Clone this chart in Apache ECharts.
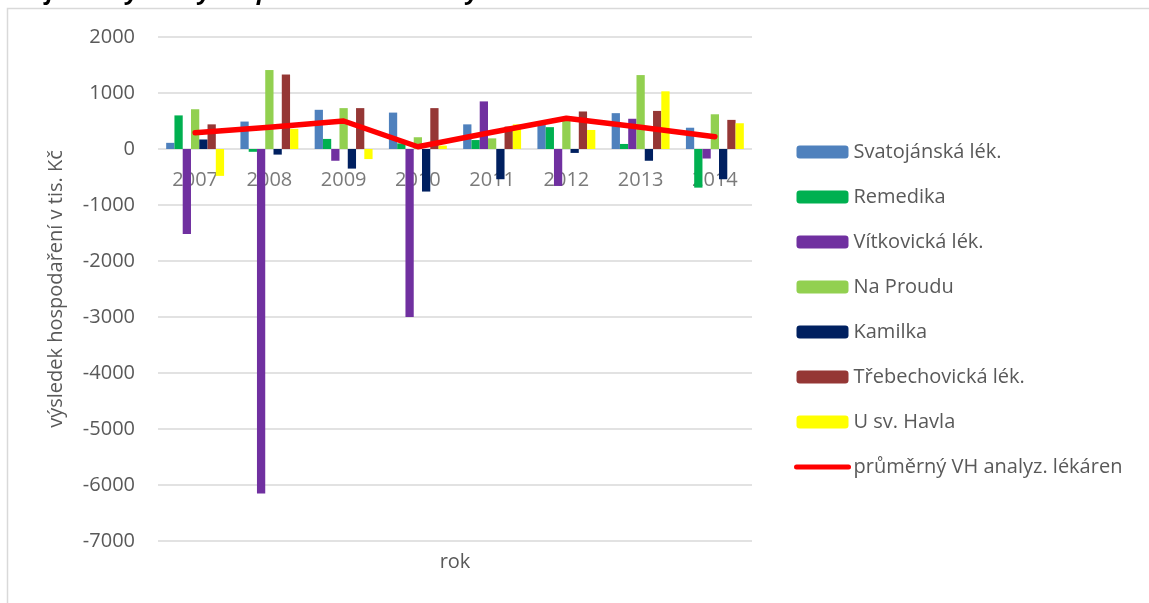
<!DOCTYPE html>
<html>
<head>
<meta charset="utf-8">
<script src="https://cdn.jsdelivr.net/npm/echarts@6/dist/echarts.min.js"></script>
<style>
html,body{margin:0;padding:0;background:#fff;}
#chart{width:1149px;height:603px;}
</style>
</head>
<body>
<div id="chart"></div>
<script>
const years = ['2007','2008','2009','2010','2011','2012','2013','2014'];
const svatojanska = [110, 490, 700, 650, 440, 450, 640, 380];
const remedika = [600, -50, 180, 100, 160, 390, 90, -690];
const vitkovicka = [-1520, -6150, -210, -3000, 850, -660, 540, -170];
const naProudu = [710, 1410, 730, 210, 190, 500, 1320, 620];
const kamilka = [170, -100, -350, -760, -540, -70, -210, -540];
const trebechovicka = [440, 1330, 730, 730, 400, 670, 680, 520];
const uSvHavla = [-480, 360, -180, 60, 440, 340, 1030, 460];
const prumer = [290, 390, 500, 40, 300, 550, 390, 220];
const yTicks = {min: -7000, max: 2000, interval: 1000};

const FONT = '"Open Sans", "Noto Sans", sans-serif';
const TXT = '#595959';

const barDefs = [
  ['Svatojánská lék.', svatojanska, '#4f81bd'],
  ['Remedika', remedika, '#00b050'],
  ['Vítkovická lék.', vitkovicka, '#7030a0'],
  ['Na Proudu', naProudu, '#92d050'],
  ['Kamilka', kamilka, '#002060'],
  ['Třebechovická lék.', trebechovicka, '#953735'],
  ['U sv. Havla', uSvHavla, '#ffff00']
];
const lineName = 'průměrný VH analyz. lékáren';

const series = [];
// category labels placed at the zero line (like an axis crossing at 0)
series.push({
  name: '_labels', type: 'scatter',
  data: years.map(y => [y, 0]),
  symbolSize: 2, itemStyle: {color: 'rgba(255,255,255,0)'},
  silent: true, z: 1,
  label: {show: true, position: 'bottom', distance: 20,
          formatter: p => p.value[0],
          color: TXT, fontFamily: FONT, fontSize: 20},
  labelLayout: {hideOverlap: false}
});
barDefs.forEach(([name, data, color]) => series.push({
  name, type: 'bar', data,
  itemStyle: {color},
  barGap: '0%', barCategoryGap: '22%',
  z: 2
}));
series.push({
  name: lineName, type: 'line', data: prumer,
  symbol: 'none', showSymbol: false,
  lineStyle: {color: '#ff0000', width: 5.5, cap: 'round', join: 'round'},
  itemStyle: {color: '#ff0000'},
  z: 5
});

const legendData = barDefs.map(d => ({name: d[0]}));
legendData.push({name: lineName, itemStyle: {opacity: 0},
                 lineStyle: {width: 5, cap: 'round', color: '#ff0000'}});

const chart = echarts.init(document.getElementById('chart'), null, {renderer: 'canvas'});
chart.setOption({
  animation: false,
  backgroundColor: '#ffffff',
  grid: {left: 158, right: 397, top: 37, bottom: 62, containLabel: false},
  legend: {
    orient: 'vertical', left: 789, top: 135,
    itemWidth: 52, itemHeight: 13, itemGap: 21,
    textStyle: {color: TXT, fontFamily: FONT, fontSize: 20, lineHeight: 24},
    data: legendData
  },
  xAxis: {
    type: 'category', data: years,
    axisLine: {show: false},
    axisTick: {show: false},
    axisLabel: {show: false}
  },
  yAxis: {
    type: 'value', min: yTicks.min, max: yTicks.max, interval: yTicks.interval,
    axisLine: {show: false}, axisTick: {show: false},
    splitLine: {lineStyle: {color: '#d9d9d9', width: 1.5}},
    axisLabel: {color: TXT, fontFamily: FONT, fontSize: 20, margin: 23,
                formatter: v => String(v)},
    name: 'výsledek hospodaření v tis. Kč', nameLocation: 'middle', nameGap: 92,
    nameTextStyle: {color: TXT, fontFamily: FONT, fontSize: 20}
  },
  graphic: [
    {type: 'rect', shape: {x: 7.5, y: 8.5, width: 1300, height: 700},
     style: {fill: 'none', stroke: '#d9d9d9', lineWidth: 1.5}, z: -10},
    {type: 'text', x: 5, y: 4,
     style: {text: 'Graf č. 1: Výsledky hospodaření sledovaných lékáren v letech 2007 – 2014',
             fill: '#000', font: 'italic bold 24px ' + FONT, verticalAlign: 'bottom'}},
    {type: 'text', x: 455, y: 562,
     style: {text: 'rok', fill: TXT, font: '20px ' + FONT, align: 'center', verticalAlign: 'middle'}}
  ],
  series
});
</script>
</body>
</html>
